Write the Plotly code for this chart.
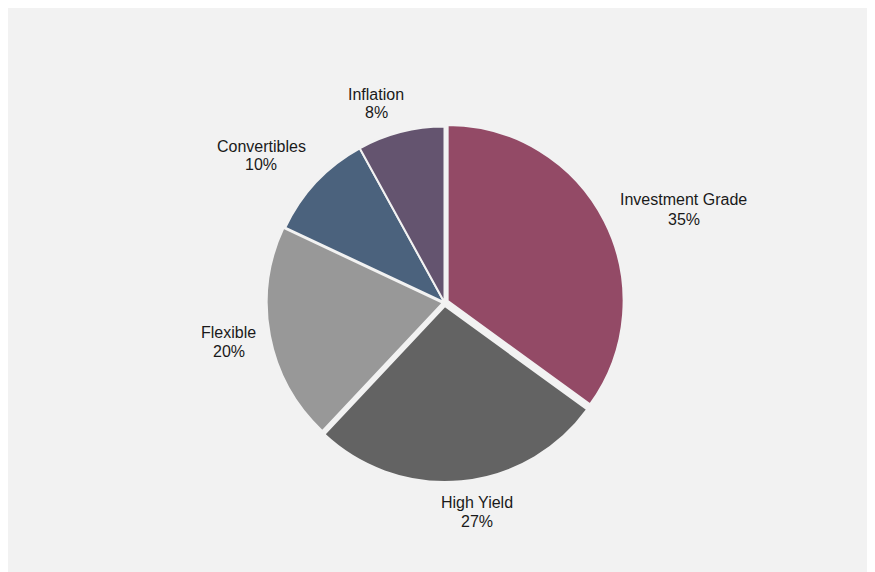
import plotly.graph_objects as go

labels = ["Investment Grade", "High Yield", "Flexible", "Convertibles", "Inflation"]
values = [35, 27, 20, 10, 8]
colors = ["#934a66", "#636363", "#989898", "#4b627d", "#64546f"]
pulls = [0.02, 0.02, 0.01, 0, 0]

W, H = 875, 572
OFF = 8  # page body margin

# label block centres (pixels, page coordinates): x, first-line y, second-line y
label_pos = [(683.5, 200, 219), (476.5, 502, 521), (228.5, 332, 351),
             (261, 146, 164), (376, 95, 113)]

fig = go.Figure(go.Pie(
    labels=labels,
    values=values,
    sort=False,
    direction="clockwise",
    rotation=0,
    pull=pulls,
    marker=dict(colors=colors, line=dict(color="#f2f2f2", width=2)),
    textinfo="none",
    hoverinfo="label+percent",
    showlegend=False,
    domain=dict(x=[236.5 / W, 636.5 / W],
                y=[1 - 474 / H, 1 - 115 / H]),
))

total = sum(values)
font = dict(family="Liberation Sans, Arial, sans-serif", size=16, color="#1a1a1a")
annotations = []
for lab, val, (px, py1, py2) in zip(labels, values, label_pos):
    pct = f"{round(100 * val / total)}%"
    for txt, py in ((lab, py1), (pct, py2)):
        annotations.append(dict(
            text=txt, x=(px - OFF) / W, y=1 - (py - OFF) / H,
            xref="paper", yref="paper", xanchor="center", yanchor="middle",
            showarrow=False, font=font))

fig.update_layout(
    width=W, height=H,
    margin=dict(l=0, r=0, t=0, b=0),
    paper_bgcolor="#f2f2f2",
    annotations=annotations,
)

fig.write_html("out.html")
